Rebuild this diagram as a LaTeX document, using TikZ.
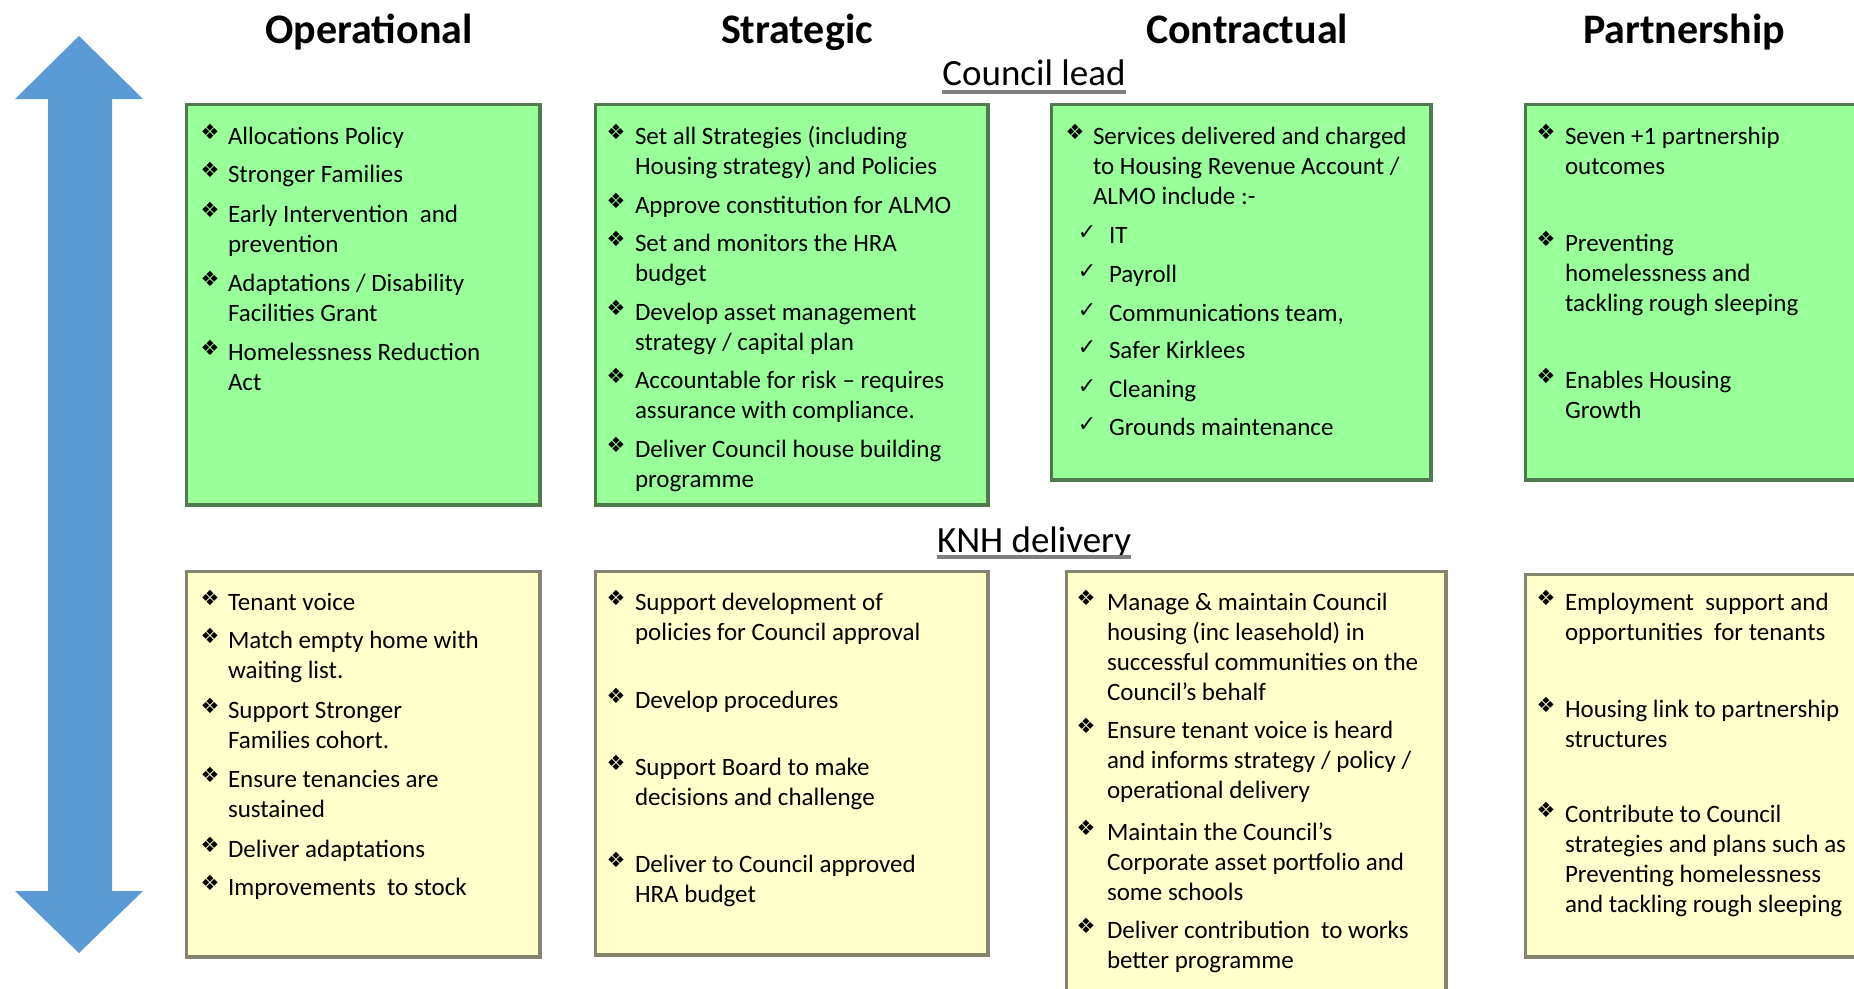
\documentclass[tikz,border=0pt]{standalone}
\usepackage{fontspec}
\setmainfont{Carlito}
\newfontfamily\symfont{DejaVu Sans}

\definecolor{gfill}{HTML}{99FF99}
\definecolor{gline}{HTML}{4E7A4E}
\definecolor{yfill}{HTML}{FFFFCC}
\definecolor{yline}{HTML}{84846F}
\definecolor{arrowblue}{HTML}{5B9BD5}
\definecolor{ulgray}{HTML}{7F7F7F}

% a framed panel given by its outer corners
\newcommand\panel[6]{%
  \node[#2, anchor=north west, minimum width={#5-#3-3.5}, minimum height={#6-#4-3.5}]
    (#1) at ({#3+1.75},{#4+1.75}) {};}
% a bulleted entry: name, bullet x, text x, first baseline, lines
\newcommand\bitem[5]{%
  \node[bul] (#1b) at (#2,{#4-12}) {\symfont ❖};
  \node[itm] (#1) at (#3,#4) {\parbox[t]{420pt}{\raggedright #5}};}
% a ticked entry: name, first baseline, text
\newcommand\citem[3]{%
  \node[chk] (#1c) at (1087,{#2-10}) {\symfont ✓};
  \node[itm] (#1) at (1109,#2) {\parbox[t]{420pt}{\raggedright #3}};}

\begin{document}
\begin{tikzpicture}[x=1pt,y=-1pt,
  gbox/.style={draw=gline, fill=gfill, line width=3.5pt, inner sep=0pt},
  ybox/.style={draw=yline, fill=yfill, line width=3.5pt, inner sep=0pt},
  itm/.style={anchor=base west, inner sep=0pt, outer sep=0pt,
    font=\fontsize{25}{30}\selectfont, text=black},
  bul/.style={anchor=center, inner sep=0pt, font=\fontsize{21}{21}\selectfont},
  chk/.style={anchor=center, inner sep=0pt, font=\fontsize{22}{22}\selectfont},
  head/.style={anchor=base, inner sep=0pt, font=\fontsize{42}{42}\selectfont\bfseries},
  sub/.style={anchor=base, inner sep=0pt, font=\fontsize{37}{37}\selectfont},
  uline/.style={draw=ulgray, line width=4pt}]

\path[use as bounding box] (0,0) rectangle (1854,988);
\fill[white] (0,0) rectangle (1854,988);
\clip (0,0) rectangle (1854,988);

% double-headed vertical arrow
\fill[arrowblue] (79,36) -- (143,99) -- (112,99) -- (112,891) -- (143,891)
  -- (79,953) -- (15,891) -- (48,891) -- (48,99) -- (15,99) -- cycle;

% column headings
\node[head] (hop) at (369,43) {Operational};
\node[head] (hst) at (797,43) {Strategic};
\node[head] (hco) at (1247,43) {Contractual};
\node[head] (hpa) at (1684,43) {Partnership};

% row headings
\node[sub] (cl) at (1034,85) {Council lead};
\draw[uline] ([yshift=-6.5pt]cl.base west) -- ([yshift=-6.5pt]cl.base east);
\node[sub] (knh) at (1034,552) {KNH delivery};
\draw[uline] ([yshift=-5pt]knh.base west) -- ([yshift=-5pt]knh.base east);

% panels
\panel{g1}{gbox}{183}{101}{540}{505}
\panel{g2}{gbox}{592}{101}{988}{505}
\panel{g3}{gbox}{1048}{101}{1431}{480}
\panel{g4}{gbox}{1522}{101}{1900}{480}
\panel{y1}{ybox}{183}{568}{540}{957}
\panel{y2}{ybox}{592}{568}{988}{955}
\panel{y3}{ybox}{1063}{568}{1446}{1020}
\panel{y4}{ybox}{1522}{571}{1900}{957}

% Council lead: operational
\bitem{ga}{210}{228}{144}{Allocations Policy}
\bitem{gb}{210}{228}{182}{Stronger Families}
\bitem{gc}{210}{228}{222}{Early Intervention\ \ and\\prevention}
\bitem{gd}{210}{228}{291}{Adaptations / Disability\\Facilities Grant}
\bitem{ge}{210}{228}{360}{Homelessness Reduction\\Act}

% Council lead: strategic
\bitem{sa}{616}{635}{144}{Set all Strategies (including\\Housing strategy) and Policies}
\bitem{sb}{616}{635}{213}{Approve constitution for ALMO}
\bitem{sc}{616}{635}{251}{Set and monitors the HRA\\budget}
\bitem{sd}{616}{635}{320}{Develop asset management\\strategy / capital plan}
\bitem{se}{616}{635}{388}{Accountable for risk – requires\\assurance with compliance.}
\bitem{sf}{616}{635}{457}{Deliver Council house building\\programme}

% Council lead: contractual
\bitem{ca}{1075}{1093}{144}{Services delivered and charged\\to Housing Revenue Account /\\ALMO include :-}
\citem{cb}{243}{IT}
\citem{cc}{282}{Payroll}
\citem{cd}{321}{Communications team,}
\citem{ce}{358}{Safer Kirklees}
\citem{cf}{397}{Cleaning}
\citem{cg}{435}{Grounds maintenance}

% Council lead: partnership
\bitem{pa}{1546}{1565}{144}{Seven +1 partnership\\outcomes}
\bitem{pb}{1546}{1565}{251}{Preventing\\homelessness and\\tackling rough sleeping}
\bitem{pc}{1546}{1565}{388}{Enables Housing\\Growth}

% KNH delivery: operational
\bitem{ka}{210}{228}{610}{Tenant voice}
\bitem{kb}{210}{228}{648}{Match empty home with\\waiting list.}
\bitem{kc}{210}{228}{718}{Support Stronger\\Families cohort.}
\bitem{kd}{210}{228}{787}{Ensure tenancies are\\sustained}
\bitem{ke}{210}{228}{857}{Deliver adaptations}
\bitem{kf}{210}{228}{895}{Improvements\ \ to stock}

% KNH delivery: strategic
\bitem{la}{616}{635}{610}{Support development of\\policies for Council approval}
\bitem{lb}{616}{635}{708}{Develop procedures}
\bitem{lc}{616}{635}{775}{Support Board to make\\decisions and challenge}
\bitem{ld}{616}{635}{872}{Deliver to Council approved\\HRA budget}

% KNH delivery: contractual
\bitem{ma}{1086}{1107}{610}{Manage \& maintain Council\\housing (inc leasehold) in\\successful communities on the\\Council’s behalf}
\bitem{mb}{1086}{1107}{738}{Ensure tenant voice is heard\\and informs strategy / policy /\\operational delivery}
\bitem{mc}{1086}{1107}{840}{Maintain the Council’s\\Corporate asset portfolio and\\some schools}
\bitem{md}{1086}{1107}{938}{Deliver contribution\ \ to works\\better programme}

% KNH delivery: partnership
\bitem{na}{1546}{1565}{610}{Employment\ \ support and\\opportunities\ \ for tenants}
\bitem{nb}{1546}{1565}{717}{Housing link to partnership\\structures}
\bitem{nc}{1546}{1565}{822}{Contribute to Council\\strategies and plans such as\\Preventing homelessness\\and tackling rough sleeping}

\end{tikzpicture}
\end{document}
